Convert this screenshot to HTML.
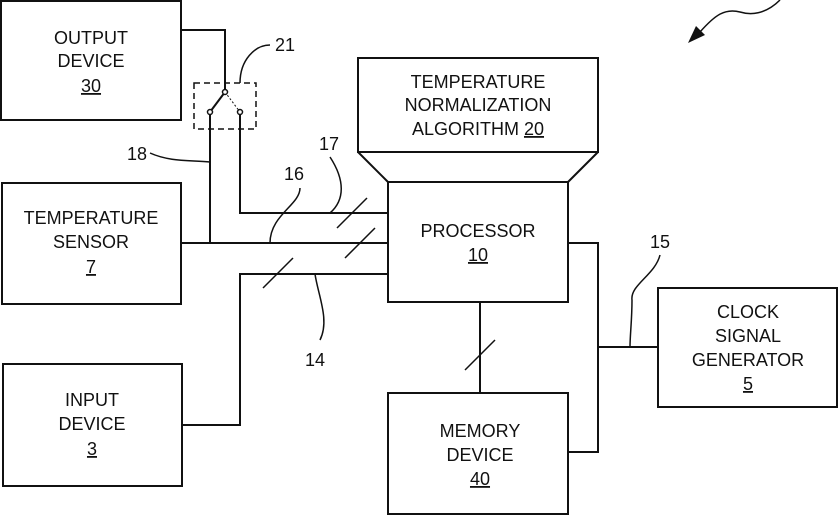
<!DOCTYPE html>
<html><head><style>
body{margin:0;background:#fff}
svg text{font-family:"Liberation Sans",Arial,sans-serif;font-size:18px;fill:#111}
</style></head><body>
<svg width="838" height="516" viewBox="0 0 838 516" xmlns="http://www.w3.org/2000/svg">
<g fill="none" stroke="#111" stroke-width="2">
<rect x="1" y="1" width="180" height="119"/>
<rect x="2" y="183" width="179" height="121"/>
<rect x="3" y="364" width="179" height="122"/>
<rect x="388" y="182" width="180" height="120"/>
<path d="M358 152 V58 H598 V152 Z M358 152 L388 182 M598 152 L568 182"/>
<rect x="388" y="393" width="180" height="121"/>
<rect x="658" y="288" width="179" height="119"/>
<path d="M181 30 H225 V92"/>
<path d="M225 92 L210 112 M210 112 V243"/>
<path d="M240 112 V213 H388"/>
<path d="M181 243 H388"/>
<path d="M182 425 H240 V274 H388"/>
<path d="M480 302 V393"/>
<path d="M568 243 H598 V452 H568 M598 347 H658"/>
<path d="M337 228 L367 198 M345 258 L375 228 M263 288 L293 258 M465 370 L495 340" stroke-width="1.5"/>
<path d="M240 83 C240 60 255 45 270 45" stroke-width="1.5"/>
<path d="M150 153 C170 162 190 160 210 162" stroke-width="1.5"/>
<path d="M330 157 C345 180 345 200 330 213" stroke-width="1.5"/>
<path d="M300 188 C300 205 270 215 270 243" stroke-width="1.5"/>
<path d="M315 274 C318 295 330 320 320 340" stroke-width="1.5"/>
<path d="M660 255 C655 275 630 285 632 300 C632 320 630 335 630 347" stroke-width="1.5"/>
<path d="M780 0 C765 15 750 15 740 12 C725 8 715 15 700 32" stroke-width="1.5"/>
<rect x="194" y="83" width="62" height="46" stroke-dasharray="6,4" stroke-width="1.5"/>
<path d="M225 92 L240 112" stroke-dasharray="2,2" stroke-width="1"/>
</g>
<polygon points="688,43 696,26 705,35" fill="#111"/>
<g fill="#fff" stroke="#111" stroke-width="1.5">
<circle cx="225" cy="92" r="2.5"/><circle cx="210" cy="112" r="2.5"/><circle cx="240" cy="112" r="2.5"/>
</g>
<g text-anchor="middle">
<text x="91" y="44">OUTPUT</text><text x="91" y="67">DEVICE</text><text x="91" y="92" text-decoration="underline">30</text>
<text x="91" y="224">TEMPERATURE</text><text x="91" y="248">SENSOR</text><text x="91" y="273" text-decoration="underline">7</text>
<text x="92" y="406">INPUT</text><text x="92" y="430">DEVICE</text><text x="92" y="455" text-decoration="underline">3</text>
<text x="478" y="88">TEMPERATURE</text><text x="478" y="111">NORMALIZATION</text><text x="478" y="135">ALGORITHM <tspan text-decoration="underline">20</tspan></text>
<text x="478" y="237">PROCESSOR</text><text x="478" y="261" text-decoration="underline">10</text>
<text x="480" y="437">MEMORY</text><text x="480" y="461">DEVICE</text><text x="480" y="485" text-decoration="underline">40</text>
<text x="748" y="318">CLOCK</text><text x="748" y="342">SIGNAL</text><text x="748" y="366">GENERATOR</text><text x="748" y="390" text-decoration="underline">5</text>
<text x="285" y="51">21</text>
<text x="137" y="160">18</text>
<text x="329" y="150">17</text>
<text x="294" y="180">16</text>
<text x="315" y="366">14</text>
<text x="660" y="248">15</text>
</g>
</svg>
</body></html>
